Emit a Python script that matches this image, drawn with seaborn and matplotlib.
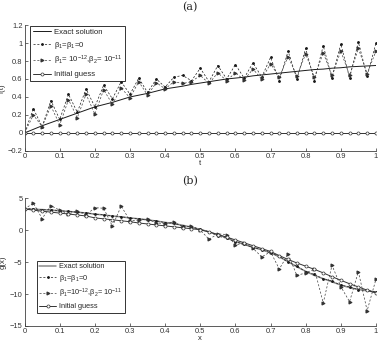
import matplotlib
matplotlib.use("Agg")
import matplotlib.pyplot as plt
import seaborn as sns
import numpy as np

# grid shared by both panels
t = [i * 0.025 for i in range(41)]

# panel (a): f(t)
f_exact = [0, 0.04, 0.08, 0.115, 0.15, 0.185, 0.22, 0.255, 0.29, 0.315, 0.34,
           0.37, 0.40, 0.42, 0.44, 0.465, 0.49, 0.505, 0.52, 0.54, 0.555,
           0.57, 0.585, 0.60, 0.61, 0.62, 0.635, 0.645, 0.655, 0.665, 0.675,
           0.685, 0.695, 0.705, 0.71, 0.72, 0.725, 0.735, 0.74, 0.745, 0.75]
f_beta0 = [0, 0.27, 0.07, 0.36, 0.15, 0.43, 0.23, 0.49, 0.29, 0.53, 0.38,
           0.57, 0.43, 0.61, 0.45, 0.60, 0.51, 0.62, 0.64, 0.58, 0.72,
           0.57, 0.75, 0.60, 0.76, 0.61, 0.78, 0.62, 0.84, 0.58, 0.91,
           0.60, 0.94, 0.58, 0.97, 0.61, 0.99, 0.61, 1.01, 0.63, 1.00]
f_beta_reg = [0, 0.20, 0.07, 0.30, 0.09, 0.37, 0.17, 0.43, 0.21, 0.48, 0.32,
              0.50, 0.39, 0.57, 0.42, 0.56, 0.49, 0.57, 0.55, 0.57, 0.64,
              0.55, 0.67, 0.58, 0.67, 0.59, 0.71, 0.60, 0.77, 0.62, 0.85,
              0.63, 0.88, 0.62, 0.89, 0.64, 0.91, 0.64, 0.94, 0.66, 0.91]
f_init = [0.0] * 41

# panel (b): g(x)
g_exact = [3.3, 3.25, 3.2, 3.1, 3.0, 2.9, 2.8, 2.65, 2.5, 2.35, 2.2,
           2.05, 1.9, 1.75, 1.6, 1.4, 1.2, 1.0, 0.75, 0.45, 0.1,
           -0.3, -0.75, -1.2, -1.8, -2.25, -2.7, -3.1, -3.55, -4.2, -4.95,
           -5.75, -6.45, -7.1, -7.6, -8.1, -8.6, -9.0, -9.3, -9.5, -9.7]
g_beta0 = [3.3, 3.35, 3.15, 3.2, 3.0, 2.95, 2.75, 2.7, 2.45, 2.4, 2.2,
           2.1, 1.85, 1.8, 1.55, 1.45, 1.15, 1.05, 0.65, 0.5, 0.1,
           -0.25, -0.95, -1.3, -1.85, -2.2, -2.75, -3.05, -3.6, -4.1, -5.0,
           -5.65, -6.5, -6.95, -7.65, -7.95, -8.65, -8.85, -9.35, -9.4, -9.7]
g_beta_reg = [3.3, 4.2, 1.8, 3.8, 3.1, 2.5, 3.0, 2.35, 3.5, 3.4, 0.6,
              3.75, 1.45, 1.55, 1.65, 1.15, 0.95, 1.3, 0.45, 0.6, 0.0,
              -1.45, -0.6, -0.7, -2.3, -2.1, -2.85, -4.2, -3.4, -6.1, -3.75,
              -7.1, -6.7, -6.1, -11.4, -5.5, -8.85, -11.2, -6.5, -12.6, -7.7]
g_init = [3.3, 3.1, 2.95, 2.8, 2.65, 2.5, 2.35, 2.2, 1.9, 1.75, 1.6,
          1.45, 1.3, 1.1, 0.95, 0.8, 0.65, 0.5, 0.35, 0.2, 0.05,
          -0.3, -0.7, -1.1, -1.55, -2.0, -2.45, -2.9, -3.35, -4.0, -4.6,
          -5.15, -5.65, -6.15, -6.7, -7.3, -7.85, -8.4, -8.9, -9.4, -9.85]

x_ticks = [0, 0.1, 0.2, 0.3, 0.4, 0.5, 0.6, 0.7, 0.8, 0.9, 1]
x_ticklabels = ["0", "0.1", "0.2", "0.3", "0.4", "0.5", "0.6", "0.7", "0.8", "0.9", "1"]
fa_ticks = [-0.2, 0, 0.2, 0.4, 0.6, 0.8, 1, 1.2]
fa_ticklabels = ["\u22120.2", "0", "0.2", "0.4", "0.6", "0.8", "1", "1.2"]
gb_ticks = [-15, -10, -5, 0, 5]
gb_ticklabels = ["\u221215", "\u221210", "\u22125", "0", "5"]

sns.set_style("ticks")
plt.rcParams["font.family"] = ["Liberation Sans", "DejaVu Sans"]
plt.rcParams["mathtext.fontset"] = "custom"
plt.rcParams["mathtext.rm"] = "Liberation Sans"
plt.rcParams["mathtext.it"] = "Liberation Sans:italic"

fig = plt.figure(figsize=(3.84, 3.43), dpi=100)
ax_a = fig.add_axes([0.064, 0.560, 0.915, 0.367])
ax_b = fig.add_axes([0.064, 0.0496, 0.915, 0.373])

lab_b0 = "\u03b2$_1$=\u03b2$_1$=0"


def draw_panel(ax, exact, beta0, beta_reg, init, exact_kw, reg_label):
    sns.lineplot(x=t, y=exact, ax=ax, label="Exact solution", **exact_kw)
    sns.lineplot(x=t, y=beta0, ax=ax, color="0.1", lw=0.5, dashes=(3, 2.5),
                 marker=".", markersize=2.5, mec="0.1", label=lab_b0)
    sns.lineplot(x=t, y=beta_reg, ax=ax, color="0.25", lw=0.5, dashes=(3, 2.5),
                 marker=">", markersize=2.2, mec="0.2", mfc="0.2", label=reg_label)
    sns.lineplot(x=t, y=init, ax=ax, color="0.2", lw=0.7,
                 marker="o", markersize=2.2, mfc="white", mec="0.2", mew=0.5,
                 label="Initial guess")


draw_panel(ax_a, f_exact, f_beta0, f_beta_reg, f_init,
           dict(color="0.1", lw=0.7),
           "\u03b2$_1$= 10$^{-12}$,\u03b2$_2$= 10$^{-11}$")
draw_panel(ax_b, g_exact, g_beta0, g_beta_reg, g_init,
           dict(color="0.55", lw=1.1),
           "\u03b2$_1$=10$^{-12}$,\u03b2$_2$= 10$^{-11}$")

for ax, yt, ytl, ylim, ylab, xlab in [
        (ax_a, fa_ticks, fa_ticklabels, (-0.2, 1.2), "f(t)", "t"),
        (ax_b, gb_ticks, gb_ticklabels, (-15, 5), "g(x)", "x")]:
    ax.set_xlim(0, 1)
    ax.set_ylim(*ylim)
    ax.set_xticks(x_ticks)
    ax.set_xticklabels(x_ticklabels)
    ax.set_yticks(yt)
    ax.set_yticklabels(ytl)
    ax.tick_params(direction="in", length=2.5, width=0.5, labelsize=5.4, pad=1.5, colors="0.2")
    for s in ["top", "right"]:
        ax.spines[s].set_visible(False)
    for s in ["left", "bottom"]:
        ax.spines[s].set_linewidth(0.6)
        ax.spines[s].set_color("0.25")
    ax.set_xlabel(xlab, fontsize=5.5, labelpad=0.3)
    ax.set_ylabel(ylab, fontsize=5.5)
    ax.yaxis.set_label_coords(-0.052, 0.5)

leg_a = ax_a.legend(loc="upper left", bbox_to_anchor=(0.016, 0.99), borderaxespad=0,
                    fontsize=5.6, frameon=True, fancybox=False, handlelength=2.4,
                    labelspacing=0.45, borderpad=0.3, handletextpad=0.4)
leg_b = ax_b.legend(loc="upper left", bbox_to_anchor=(0.035, 0.51), borderaxespad=0,
                    fontsize=5.3, frameon=True, fancybox=False, handlelength=2.3,
                    labelspacing=0.4, borderpad=0.3, handletextpad=0.4)
for leg in (leg_a, leg_b):
    leg.get_frame().set_edgecolor("k")
    leg.get_frame().set_linewidth(0.7)

fig.text(0.494, 0.978, "(a)", ha="center", va="center", fontsize=8,
         family="DejaVu Serif")
fig.text(0.494, 0.472, "(b)", ha="center", va="center", fontsize=8,
         family="DejaVu Serif")

fig.savefig("out.png", dpi=100)
